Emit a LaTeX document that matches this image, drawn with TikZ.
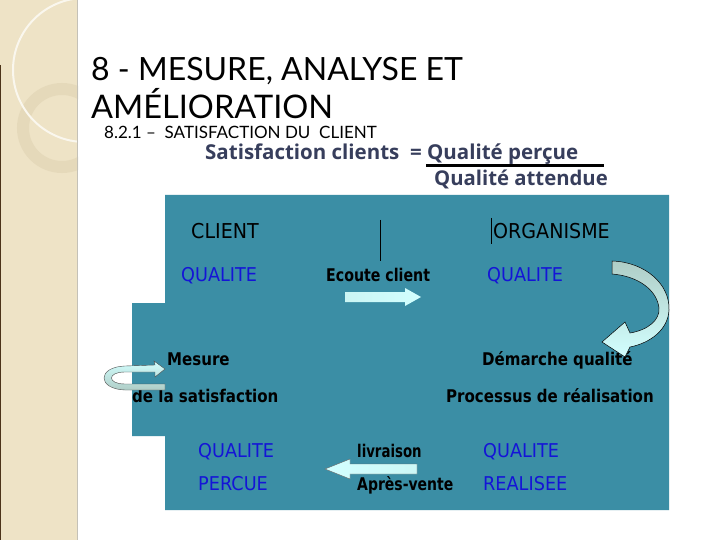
\documentclass[tikz,border=0pt]{standalone}
\usepackage{fontspec}
\usepackage{graphicx}
\newfontfamily\dgf{DejaVu Sans}
\newfontfamily\tif{Lato}
\newfontfamily\fmf{Open Sans}
\definecolor{teal1}{RGB}{59,142,165}
\definecolor{qblue}{RGB}{20,20,215}
\definecolor{beige}{RGB}{238,227,198}
\definecolor{beigeD}{RGB}{229,217,186}
\definecolor{beigeL}{RGB}{243,235,214}
\definecolor{fcol}{RGB}{55,62,92}
\definecolor{acyan}{RGB}{210,255,255}
\definecolor{agray}{RGB}{175,205,198}
\newcommand{\rg}[1]{\scalebox{0.93}[1]{#1}}
\newcommand{\bd}[2][0.86]{\scalebox{#1}[1]{#2}}
\tikzset{
  lreg/.style={anchor=base west, inner sep=0pt, font=\dgf\fontsize{20.5}{24}\selectfont},
  lblue/.style={anchor=base west, inner sep=0pt, text=qblue, font=\dgf\fontsize{19}{23}\selectfont},
  lbold/.style={anchor=base west, inner sep=0pt, font=\dgf\bfseries\fontsize{17.5}{20}\selectfont},
  arr/.style={draw=black!60, line width=0.4pt},
}
\begin{document}
\begin{tikzpicture}[x=1pt,y=-1pt]
\useasboundingbox (0,0) rectangle (720,540);
\fill[white] (0,0) rectangle (720,540);
% left strip
\fill[beige] (0,0) rectangle (78,540);
\begin{scope}
\clip (0,0) rectangle (78,540);
\fill[beigeL] (0,0) -- (63,0) arc[start angle=0,end angle=-90,radius=63] -- cycle;
\draw[beigeD!80!black!30!beige, line width=0.6pt] (63,0) arc[start angle=0,end angle=-90,radius=63];
\draw[beigeD, line width=12pt] (62,128) circle[radius=39];
\draw[white!70!beige, line width=2pt] (85,70) circle[radius=72];
\end{scope}
\draw[beigeD!60!black!50, line width=1pt] (77.5,0) -- (77.5,540);
\draw[black!60!brown, line width=1.2pt] (0.5,65) -- (0.5,540);
% titles
\node[anchor=base west, inner sep=0pt, font=\tif\fontsize{32}{36}\selectfont] (t1) at (91,81) {8 - MESURE, ANALYSE ET};
\node[anchor=base west, inner sep=0pt, font=\tif\fontsize{32.5}{36}\selectfont] (t2) at (91,119) {AMÉLIORATION};
\node[anchor=base west, inner sep=0pt, font=\tif\fontsize{17}{20}\selectfont] (t3) at (104,139) {8.2.1 –\ \ SATISFACTION DU\ \ CLIENT};
\node[anchor=base west, inner sep=0pt, text=fcol, font=\fmf\bfseries\fontsize{20.5}{24}\selectfont] (f1) at (205,160) {Satisfaction clients\ \ = Qualité perçue};
\node[anchor=base west, inner sep=0pt, text=fcol, font=\fmf\bfseries\fontsize{20.3}{24}\selectfont] (f2) at (434,186) {Qualité attendue};
\coordinate (fl1) at (426,165.5);
\coordinate (fl2) at (604,165.5);
\draw[line width=2.5pt] (fl1) -- (fl2);
% teal panel
\fill[teal1] (165,195) -- (669,195) -- (669,510) -- (165,510) -- (165,436) -- (132,436) -- (132,303) -- (165,303) -- cycle;
% vertical lines
\coordinate (v1a) at (380,220); \coordinate (v1b) at (380,261);
\coordinate (v2a) at (491,218); \coordinate (v2b) at (491,244);
\draw[line width=0.8pt] (v1a) -- (v1b);
\draw[line width=0.8pt] (v2a) -- (v2b);
% texts
\node[lreg] (client) at (191,239) {\rg{CLIENT}};
\node[lreg] (org) at (493,239) {\rg{ORGANISME}};
\node[lblue] (q1) at (181,281) {\rg{QUALITE}};
\node[lbold] (ec) at (326,281) {\bd[0.81]{Ecoute client}};
\node[lblue] (q2) at (487,281) {\rg{QUALITE}};
\node[lbold] (mes) at (167,365) {\bd{Mesure}};
\node[lbold] (sat) at (132,402) {\bd{de la satisfaction}};
\node[lbold] (dem) at (482,365) {\bd{Démarche qualité}};
\node[lbold] (proc) at (446,402) {\bd{Processus de réalisation}};
\node[lblue] (q3) at (198,457) {\rg{QUALITE}};
\node[lblue] (perc) at (198,490) {\rg{PERCUE}};
\node[lbold] (liv) at (357,457) {\bd[0.76]{livraison}};
\node[lbold] (apv) at (357,490) {\bd[0.8]{Après-vente}};
\node[lblue] (q4) at (483,457) {\rg{QUALITE}};
\node[lblue] (real) at (483,490) {\rg{REALISEE}};
% arrow Ecoute client (right)
\shade[left color=acyan!80!agray, right color=acyan] (345,292) -- (405,292) -- (405,288) -- (421,297) -- (405,306) -- (405,302) -- (345,302) -- cycle;
% arrow livraison (left)
\shade[arr, left color=acyan, right color=acyan!85!agray] (417,464) -- (350,464) -- (350,459) -- (325,469) -- (350,479) -- (350,474) -- (417,474) -- cycle;
% curved arrow right
\shade[draw=black, line width=0.5pt, top color=agray, bottom color=acyan]
  (612,261) .. controls (645,262) and (670,284) .. (669,310)
  .. controls (668,330) and (650,343) .. (630,347)
  -- (625,357) -- (602,342) -- (625,322) -- (630,333)
  .. controls (648,330) and (660,320) .. (659,308)
  .. controls (657,290) and (638,276) .. (612,274) -- cycle;
% loop arrow left
\shade[draw=black!70, line width=0.4pt, top color=acyan, bottom color=agray]
  (165,390) -- (125,390) .. controls (97,389) and (97,367) .. (125,366)
  -- (155,365) -- (154,361) -- (165,369) -- (155,377) -- (155,372)
  -- (125,372) .. controls (107,372) and (107,384) .. (125,384) -- (165,384) -- cycle;
\end{tikzpicture}
\end{document}
